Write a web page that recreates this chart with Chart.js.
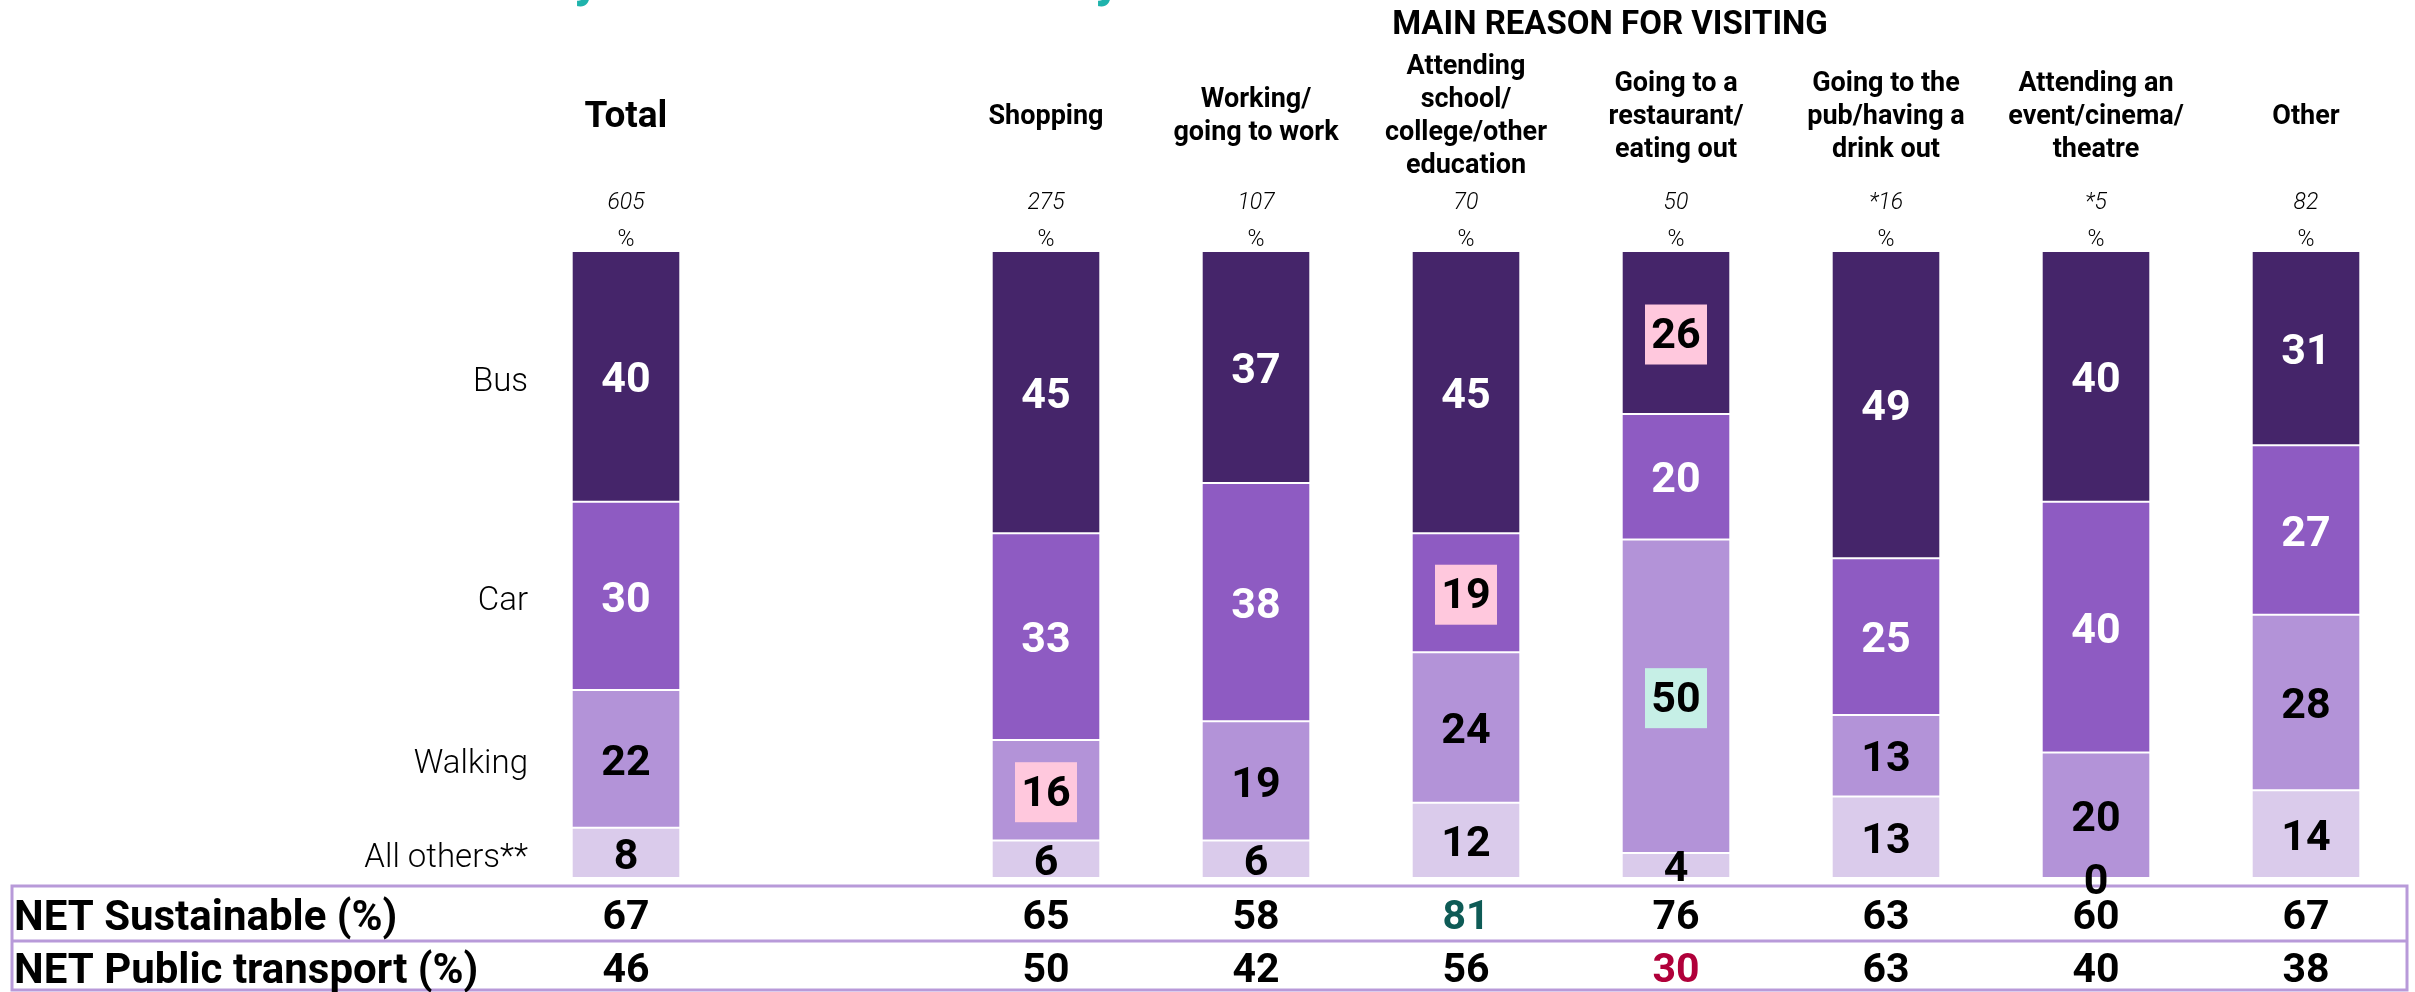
<!DOCTYPE html>
<html>
<head>
<meta charset="utf-8">
<script src="https://cdn.jsdelivr.net/npm/chart.js@4.4.1/dist/chart.umd.min.js"></script>
<style>
  html, body { margin: 0; padding: 0; background: #fff; }
  #wrap { width: 2415px; height: 992px; }
</style>
</head>
<body>
<div id="wrap"><canvas id="myChart" width="2415" height="992"></canvas></div>
<script>
// the data
const categories = ['Total', '', 'Shopping', 'Working/\ngoing to work', 'Attending\nschool/\ncollege/other\neducation',
  'Going to a\nrestaurant/\neating out', 'Going to the\npub/having a\ndrink out', 'Attending an\nevent/cinema/\ntheatre', 'Other']
const baseSizes = ['605', '', '275', '107', '70', '50', '*16', '*5', '82']
const bus       = [40, null, 45, 37, 45, 26, 49, 40, 31]
const car       = [30, null, 33, 38, 19, 20, 25, 40, 27]
const walking   = [22, null, 16, 19, 24, 50, 13, 20, 28]
const allOthers = [8, null, 6, 6, 12, 4, 13, 0, 14]
const netSustainable = [67, null, 65, 58, 81, 76, 63, 60, 67]
const netPublic      = [46, null, 50, 42, 56, 30, 63, 40, 38]
const seriesNames = ['All others**', 'Walking', 'Car', 'Bus']

// colours
const BUS = '#45256a', CAR = '#8e5bc2', WALK = '#b393d8', OTHERS = '#dacbeb'
const LINE = '#b89ad9'
const FONT = 'Roboto, "Noto Sans", sans-serif'

// labels that sit on a coloured box: dataset index -> category index -> box colour
const highlights = {
  1: {2: '#ffc8dd', 5: '#c6efe6'},
  2: {4: '#ffc8dd'},
  3: {5: '#ffc8dd'}
}
const sustColours = {4: '#0e5b56'}
const publicColours = {5: '#b0003a'}

function bars(label, data, color) {
  return {
    label: label,
    data: data,
    backgroundColor: color,
    borderColor: '#ffffff',
    borderWidth: {top: 1, bottom: 1, left: 0, right: 0},
    borderSkipped: false,
    barPercentage: 0.51,
    categoryPercentage: 1.0
  }
}

// draws every text around the bars
const extras = {
  id: 'extras',
  beforeDraw(chart) {
    const ctx = chart.ctx
    const xs = chart.scales.x
    ctx.save()
    // bits of the teal heading cut off above
    ctx.fillStyle = '#1fb3ac'
    ctx.font = 'bold 52px ' + FONT
    ctx.textAlign = 'left'
    ctx.textBaseline = 'alphabetic'
    ctx.fillText('y', 574, -5)
    ctx.fillText('y', 1095, -5)

    ctx.fillStyle = '#000'
    ctx.textAlign = 'center'
    ctx.textBaseline = 'middle'
    ctx.font = 'bold 33px ' + FONT
    ctx.fillText('MAIN REASON FOR VISITING', 1610, 26)

    categories.forEach(function (cat, i) {
      const x = xs.getPixelForValue(i)
      if (i === 0) {
        ctx.font = 'bold 37px ' + FONT
        ctx.fillText(cat, x, 118)
      } else if (cat) {
        const lines = cat.split('\n')
        ctx.font = 'bold 27px ' + FONT
        const lh = 33
        const y0 = 117 - (lines.length - 1) * lh / 2
        lines.forEach(function (l, k) { ctx.fillText(l, x, y0 + k * lh) })
      }
      if (baseSizes[i]) {
        ctx.font = 'italic 300 23px ' + FONT
        ctx.fillText(baseSizes[i], x, 203)
        ctx.font = '300 23px ' + FONT
        ctx.fillText('%', x, 240)
      }
    })

    // series names beside the Total bar
    ctx.textAlign = 'right'
    ctx.font = '300 33px ' + FONT
    chart.data.datasets.forEach(function (ds, d) {
      const el = chart.getDatasetMeta(d).data[0]
      ctx.fillText(ds.label, 528, (el.y + el.base) / 2 + 6)
    })

    // table under the bars
    ctx.strokeStyle = LINE
    ctx.lineWidth = 3
    ctx.strokeRect(12, 886, 2395, 104)
    ctx.beginPath()
    ctx.moveTo(12, 941)
    ctx.lineTo(2407, 941)
    ctx.stroke()

    ctx.textAlign = 'left'
    ctx.font = 'bold 42px ' + FONT
    ctx.fillStyle = '#000'
    ctx.fillText('NET Sustainable (%)', 14, 919)
    ctx.fillText('NET Public transport (%)', 14, 972)
    ctx.textAlign = 'center'
    ctx.font = 'bold 41px ' + FONT
    categories.forEach(function (cat, i) {
      const x = xs.getPixelForValue(i)
      if (netSustainable[i] !== null) {
        ctx.fillStyle = sustColours[i] || '#000'
        ctx.fillText(netSustainable[i], x, 919)
      }
      if (netPublic[i] !== null) {
        ctx.fillStyle = publicColours[i] || '#000'
        ctx.fillText(netPublic[i], x, 972)
      }
    })
    ctx.restore()
  },
  afterDatasetsDraw(chart) {
    const ctx = chart.ctx
    ctx.save()
    ctx.textAlign = 'center'
    ctx.textBaseline = 'middle'
    ctx.font = 'bold 43px ' + FONT
    chart.data.datasets.forEach(function (ds, d) {
      chart.getDatasetMeta(d).data.forEach(function (el, i) {
        const v = ds.data[i]
        if (v === null) return
        const y = (el.y + el.base) / 2
        const hl = highlights[d] && highlights[d][i]
        if (hl) {
          ctx.fillStyle = hl
          ctx.fillRect(el.x - 31, y - 28, 62, 60)
        }
        ctx.fillStyle = (d >= 2 && !hl) ? '#fff' : '#000'
        ctx.fillText(v, el.x, y + 5)
      })
    })
    ctx.restore()
  }
}

const ctx = document.getElementById('myChart').getContext('2d')
const chart = new Chart(ctx, {
  type: 'bar',
  data: {
    labels: categories,
    datasets: [
      bars(seriesNames[0], allOthers, OTHERS),
      bars(seriesNames[1], walking, WALK),
      bars(seriesNames[2], car, CAR),
      bars(seriesNames[3], bus, BUS)
    ]
  },
  options: {
    responsive: false,
    animation: false,
    layout: { padding: {left: 521, right: 4, top: 251, bottom: 114} },
    scales: {
      x: { stacked: true, display: false },
      y: { stacked: true, display: false, min: 0, max: 100 }
    },
    plugins: {
      legend: { display: false },
      tooltip: { enabled: false }
    }
  },
  plugins: [extras]
})
</script>
</body>
</html>
